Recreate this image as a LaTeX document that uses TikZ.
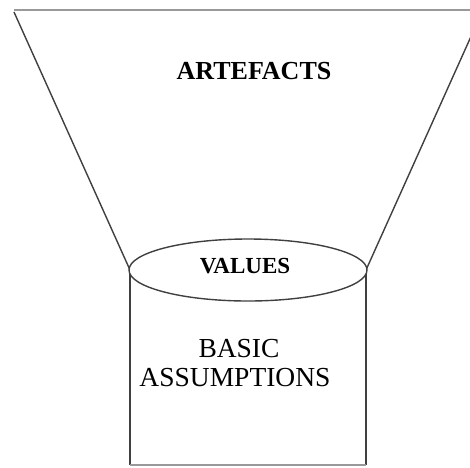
\documentclass[tikz,border=0pt]{standalone}
\usepackage{fontspec}
\setmainfont{Liberation Serif}
\usetikzlibrary{shapes.geometric}
\begin{document}
\begin{tikzpicture}[x=1pt,y=-1pt,
  edge/.style={draw=black!75,line width=1.4pt},
  lbl/.style={inner sep=0pt,anchor=base,text=black}]
\useasboundingbox (0,0) rectangle (470,467);
\fill[white] (0,0) rectangle (470,467);
\begin{scope}
\clip (0,0) rectangle (470,467);
% funnel
\draw[draw=black!40,line width=1.6pt] (14,10) -- (480,10);
\draw[edge] (14,12) -- (130,270);
\draw[edge] (482,12) -- (366,270);
% cylinder body
\draw[edge] (130,270) -- (130,465);
\draw[edge] (366,270) -- (366,465);
\draw[draw=black!40,line width=1.4pt] (130,465) -- (366,465);
% ellipse
\node[draw=black!75,line width=1.4pt,fill=white,ellipse,minimum width=238pt,minimum height=62pt,inner sep=0pt] (values) at (248,270) {};
\end{scope}
\node[lbl,font=\fontsize{26}{30}\selectfont\bfseries] (artefacts) at (254,79) {ARTEFACTS};
\node[lbl,font=\fontsize{23}{27}\selectfont\bfseries] (valuestext) at (245,273) {VALUES};
\node[lbl,font=\fontsize{27.5}{29}\selectfont] (basic) at (239,357) {BASIC};
\node[lbl,font=\fontsize{27.5}{29}\selectfont] (assump) at (235,386) {ASSUMPTIONS};
\end{tikzpicture}
\end{document}
